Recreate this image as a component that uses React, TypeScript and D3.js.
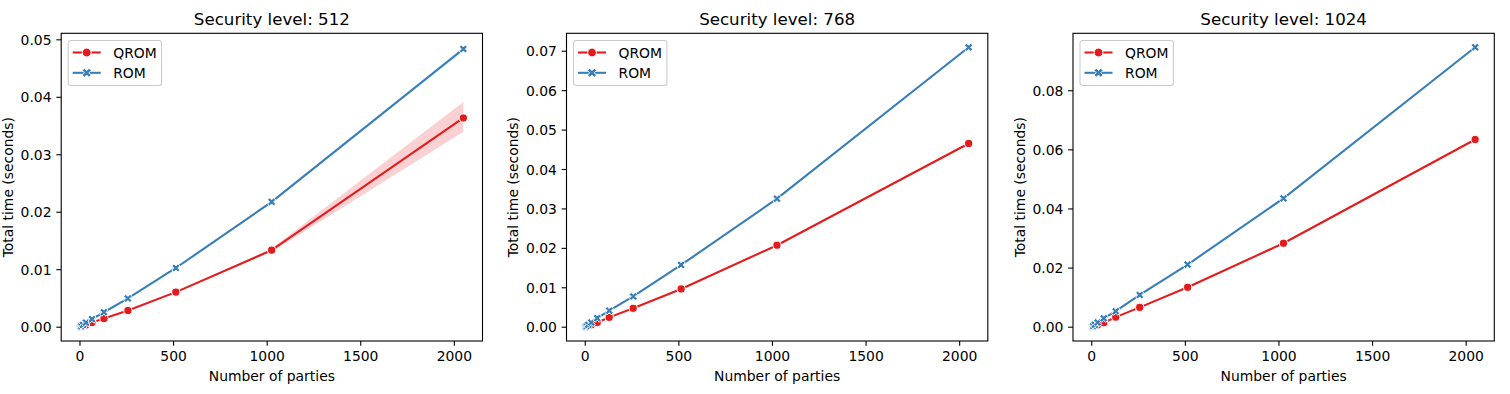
import React from "react";
import * as d3 from "d3";

const parties = [2, 4, 8, 16, 32, 64, 128, 256, 512, 1024, 2048];
const levels = ["512", "768", "1024"];

const qrom512 = [0.00003, 0.00006, 0.0001, 0.0002, 0.0004, 0.0008, 0.0015, 0.0029, 0.0061, 0.0134, 0.0364];
const qrom512Lo = [0.00003, 0.00006, 0.0001, 0.0002, 0.0004, 0.0008, 0.00145, 0.00285, 0.006, 0.0131, 0.034];
const qrom512Hi = [0.00003, 0.00006, 0.0001, 0.0002, 0.0004, 0.0008, 0.00155, 0.00295, 0.0062, 0.0137, 0.0392];
const rom512 = [0.00005, 0.0001, 0.0002, 0.0004, 0.0008, 0.0014, 0.0026, 0.005, 0.0103, 0.0218, 0.0484];
const rom512Lo = [0.00005, 0.0001, 0.0002, 0.0004, 0.0008, 0.0014, 0.0026, 0.005, 0.0102, 0.0216, 0.048];
const rom512Hi = [0.00005, 0.0001, 0.0002, 0.0004, 0.0008, 0.0014, 0.0026, 0.005, 0.0104, 0.022, 0.0487];

const qrom768 = [0.00005, 0.0001, 0.0002, 0.0003, 0.0006, 0.0012, 0.0025, 0.0048, 0.0097, 0.0208, 0.0466];
const rom768 = [0.00007, 0.00014, 0.0003, 0.0006, 0.0012, 0.0023, 0.0042, 0.0078, 0.0158, 0.0326, 0.071];

const qrom1024 = [0.00006, 0.00012, 0.00025, 0.0004, 0.0008, 0.0015, 0.0034, 0.0067, 0.0135, 0.0284, 0.0635];
const rom1024 = [0.0001, 0.0002, 0.0004, 0.0008, 0.0016, 0.003, 0.0054, 0.0109, 0.0212, 0.0436, 0.0947];

const xTicks = [0, 500, 1000, 1500, 2000];
const yTicks512 = [0, 0.01, 0.02, 0.03, 0.04, 0.05];
const yTicks768 = [0, 0.01, 0.02, 0.03, 0.04, 0.05, 0.06, 0.07];
const yTicks1024 = [0, 0.02, 0.04, 0.06, 0.08];

const RED = "#e41a1c";
const BLUE = "#377eb8";
const FONT = "DejaVu Sans, sans-serif";

const panels = [
  { level: levels[0], qrom: qrom512, qlo: qrom512Lo, qhi: qrom512Hi, rom: rom512, rlo: rom512Lo, rhi: rom512Hi, yTicks: yTicks512, left: 61.2 },
  { level: levels[1], qrom: qrom768, qlo: qrom768, qhi: qrom768, rom: rom768, rlo: rom768, rhi: rom768, yTicks: yTicks768, left: 566.5 },
  { level: levels[2], qrom: qrom1024, qlo: qrom1024, qhi: qrom1024, rom: rom1024, rlo: rom1024, rhi: rom1024, yTicks: yTicks1024, left: 1073 },
];

const TOP = 33.3;
const BOTTOM = 341;
const WIDTH = 421.3;

const xPath = d3.symbol(d3.symbolCross, 42)();
const xPathLegend = d3.symbol(d3.symbolCross, 52)();
const fmt = d3.format(".2f");

function Panel({ p }: { p: (typeof panels)[number] }) {
  const xExt = d3.extent(parties) as [number, number];
  const xPad = (xExt[1] - xExt[0]) * 0.05;
  const x = d3.scaleLinear().domain([xExt[0] - xPad, xExt[1] + xPad]).range([0, WIDTH]);
  const all = [...p.qrom, ...p.qlo, ...p.qhi, ...p.rom, ...p.rlo, ...p.rhi];
  const yMin = d3.min(all) as number;
  const yMax = d3.max(all) as number;
  const yPad = (yMax - yMin) * 0.05;
  const h = BOTTOM - TOP;
  const y = d3.scaleLinear().domain([yMin - yPad, yMax + yPad]).range([h, 0]);

  const line = d3.line<number>().x((_, i) => x(parties[i])).y((d) => y(d));
  const band = (lo: number[], hi: number[]) =>
    d3
      .area<number>()
      .x((_, i) => x(parties[i]))
      .y0((_, i) => y(lo[i]))
      .y1((_, i) => y(hi[i]))(lo) ?? "";

  return (
    <g transform={`translate(${p.left},${TOP})`}>
      <text x={WIDTH / 2} y={-8.5} textAnchor="middle" fontSize={16.67} fill="#000">
        Security level: {p.level}
      </text>
      <path d={band(p.qlo, p.qhi)} fill={RED} fillOpacity={0.2} />
      <path d={line(p.qrom) ?? ""} fill="none" stroke={RED} strokeWidth={2.08} />
      {p.qrom.map((d, i) => (
        <circle key={"q" + i} cx={x(parties[i])} cy={y(d)} r={4.1} fill={RED} stroke="#fff" strokeWidth={1} />
      ))}
      <path d={band(p.rlo, p.rhi)} fill={BLUE} fillOpacity={0.2} />
      <path d={line(p.rom) ?? ""} fill="none" stroke={BLUE} strokeWidth={2.08} />
      {p.rom.map((d, i) => (
        <path
          key={"r" + i}
          d={xPath ?? ""}
          transform={`translate(${x(parties[i])},${y(d)}) rotate(45)`}
          fill={BLUE}
          stroke="#fff"
          strokeWidth={0.9}
        />
      ))}
      <rect x={0} y={0} width={WIDTH} height={h} fill="none" stroke="#000" strokeWidth={1.1} />
      {xTicks.map((t) => (
        <g key={"x" + t} transform={`translate(${x(t)},${h})`}>
          <line y2={4.86} stroke="#000" strokeWidth={1.1} />
          <text y={9.7} dy="0.76em" textAnchor="middle" fontSize={13.9}>
            {t}
          </text>
        </g>
      ))}
      {p.yTicks.map((t) => (
        <g key={"y" + t} transform={`translate(0,${y(t)})`}>
          <line x2={-4.86} stroke="#000" strokeWidth={1.1} />
          <text x={-9.7} dy="0.36em" textAnchor="end" fontSize={13.9}>
            {fmt(t)}
          </text>
        </g>
      ))}
      <text x={WIDTH / 2} y={h + 40} textAnchor="middle" fontSize={13.9}>
        Number of parties
      </text>
      <text transform={`translate(${-48.5},${h / 2}) rotate(-90)`} textAnchor="middle" fontSize={13.9}>
        Total time (seconds)
      </text>
      <g transform="translate(7,7.2)">
        <rect width={93.4} height={45} rx={2.8} fill="#fff" fillOpacity={0.8} stroke="#cccccc" strokeWidth={1.1} />
        <line x1={4.5} x2={32.5} y1={12} y2={12} stroke={RED} strokeWidth={2.08} />
        <circle cx={18.5} cy={12} r={4.4} fill={RED} stroke="#fff" strokeWidth={1} />
        <text x={45} y={12} dy="0.36em" fontSize={13.9}>
          QROM
        </text>
        <line x1={4.5} x2={32.5} y1={32.3} y2={32.3} stroke={BLUE} strokeWidth={2.08} />
        <path d={xPathLegend ?? ""} transform="translate(18.5,32.3) rotate(45)" fill={BLUE} stroke="#fff" strokeWidth={0.9} />
        <text x={45} y={32.3} dy="0.36em" fontSize={13.9}>
          ROM
        </text>
      </g>
    </g>
  );
}

export default function App() {
  return (
    <svg width={1510} height={394} style={{ position: "absolute", left: 0, top: 0, fontFamily: FONT }}>
      <rect width={1510} height={394} fill="#fff" />
      {panels.map((p) => (
        <Panel key={p.level} p={p} />
      ))}
    </svg>
  );
}
